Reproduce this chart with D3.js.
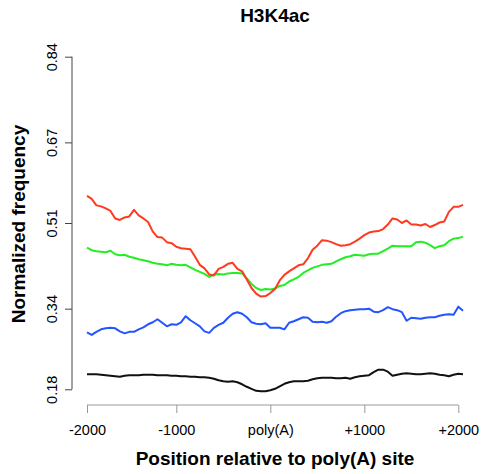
<!DOCTYPE html>
<html>
<head>
<meta charset="utf-8">
<script src="https://cdn.jsdelivr.net/npm/d3@7"></script>
<style>
  body { margin: 0; background: #fff; }
  svg { display: block; font-family: "Liberation Sans", Arial, sans-serif; }
</style>
</head>
<body>
<div id="chart"></div>
<script>
// positions relative to the poly(A) site, 50 bp bins
const positions = d3.range(-1950, 2051, 50);

const redValues = [
  0.564,0.558,0.545,0.543,0.539,0.534,0.519,0.516,0.521,0.523,
  0.536,0.525,0.519,0.512,0.493,0.482,0.481,0.472,0.470,0.463,
  0.460,0.459,0.458,0.443,0.427,0.420,0.408,0.406,0.419,0.423,
  0.429,0.431,0.419,0.414,0.398,0.381,0.370,0.364,0.365,0.371,
  0.379,0.396,0.407,0.414,0.420,0.426,0.428,0.440,0.457,0.465,
  0.476,0.475,0.472,0.468,0.465,0.466,0.468,0.473,0.479,0.486,
  0.491,0.493,0.494,0.498,0.507,0.519,0.517,0.510,0.515,0.507,
  0.507,0.505,0.508,0.502,0.506,0.511,0.513,0.532,0.542,0.542,0.546
];
const greenValues = [
  0.461,0.456,0.454,0.453,0.452,0.455,0.448,0.446,0.447,0.443,
  0.441,0.438,0.436,0.434,0.431,0.429,0.428,0.426,0.429,0.427,
  0.426,0.427,0.422,0.417,0.413,0.409,0.403,0.408,0.409,0.408,
  0.410,0.411,0.411,0.410,0.400,0.389,0.381,0.377,0.379,0.378,
  0.380,0.385,0.387,0.394,0.398,0.403,0.411,0.416,0.421,0.424,
  0.427,0.428,0.429,0.434,0.438,0.442,0.444,0.447,0.446,0.445,
  0.448,0.449,0.449,0.454,0.459,0.465,0.464,0.464,0.464,0.464,
  0.472,0.473,0.471,0.466,0.460,0.464,0.466,0.474,0.479,0.480,0.483
];
const blueValues = [
  0.293,0.288,0.294,0.299,0.301,0.302,0.301,0.295,0.291,0.294,
  0.294,0.299,0.303,0.309,0.313,0.319,0.312,0.305,0.309,0.308,
  0.313,0.325,0.317,0.311,0.305,0.295,0.292,0.302,0.308,0.312,
  0.322,0.330,0.333,0.330,0.323,0.313,0.310,0.309,0.311,0.302,
  0.302,0.302,0.299,0.312,0.315,0.319,0.323,0.322,0.314,0.313,
  0.314,0.312,0.315,0.324,0.331,0.335,0.337,0.338,0.339,0.339,
  0.340,0.334,0.333,0.337,0.343,0.339,0.337,0.333,0.316,0.322,
  0.321,0.320,0.322,0.323,0.323,0.326,0.328,0.329,0.328,0.344,0.336
];
const blackValues = [
  0.210,0.210,0.210,0.209,0.208,0.207,0.206,0.205,0.207,0.208,
  0.208,0.208,0.209,0.209,0.209,0.208,0.208,0.208,0.207,0.207,
  0.206,0.206,0.205,0.205,0.204,0.204,0.203,0.201,0.198,0.196,
  0.195,0.196,0.194,0.190,0.185,0.181,0.177,0.176,0.176,0.178,
  0.181,0.186,0.191,0.194,0.196,0.196,0.196,0.197,0.200,0.202,
  0.203,0.203,0.203,0.202,0.202,0.203,0.201,0.204,0.206,0.207,
  0.208,0.214,0.219,0.219,0.215,0.207,0.209,0.211,0.212,0.211,
  0.210,0.210,0.211,0.212,0.211,0.209,0.208,0.206,0.209,0.211,0.210
];

const xTickPositions = [-1950, -1000, 0, 1000, 2000];
const xTickLabels = ["-2000", "-1000", "poly(A)", "+1000", "+2000"];
const yTickValues = [0.18, 0.34, 0.51, 0.67, 0.84];
const yTickLabels = ["0.18", "0.34", "0.51", "0.67", "0.84"];

const series = [
  { name: "black", color: "#111111", values: blackValues },
  { name: "blue", color: "#2255ff", values: blueValues },
  { name: "green", color: "#22ee22", values: greenValues },
  { name: "red", color: "#ff3a1f", values: redValues }
];

const width = 484, height = 474;

const svg = d3.select("#chart").append("svg")
  .attr("width", width)
  .attr("height", height);

const x = d3.scaleLinear().domain([-1950, 2050]).range([87, 463]);
const y = d3.scaleLinear().domain([0.18, 0.84]).range([389.3, 56.7]);

// title
svg.append("text")
  .attr("x", 275).attr("y", 22)
  .attr("text-anchor", "middle")
  .style("font-weight", "bold").style("font-size", "19px")
  .text("H3K4ac");

// y axis
const yAxis = svg.append("g")
  .attr("transform", "translate(72,0)")
  .call(d3.axisLeft(y).tickValues(yTickValues).tickSize(7)
    .tickFormat((d, i) => yTickLabels[i]));
yAxis.select(".domain").attr("stroke", "#444").attr("d", `M0,${y(0.18)}V${y(0.84)}`);
yAxis.selectAll(".tick line").attr("stroke", "#444");
yAxis.selectAll(".tick text")
  .attr("x", null).attr("dy", null)
  .attr("transform", "translate(-15,0) rotate(-90)")
  .attr("text-anchor", "middle")
  .attr("fill", "#000")
  .style("font-size", "14.5px");

// x axis
const xAxis = svg.append("g")
  .attr("transform", "translate(0,405)")
  .call(d3.axisBottom(x).tickValues(xTickPositions).tickSize(8)
    .tickFormat((d, i) => xTickLabels[i]));
xAxis.select(".domain").attr("stroke", "#999")
  .attr("d", `M${x(-1950)},0H${x(2000)}`);
xAxis.selectAll(".tick line").attr("stroke", "#999");
xAxis.selectAll(".tick text")
  .attr("y", 30).attr("dy", null)
  .attr("fill", "#000")
  .style("font-size", "14.5px");

// axis titles
svg.append("text")
  .attr("x", 275).attr("y", 465)
  .attr("text-anchor", "middle")
  .style("font-weight", "bold").style("font-size", "19px")
  .text("Position relative to poly(A) site");

svg.append("text")
  .attr("transform", "translate(25,224) rotate(-90)")
  .attr("text-anchor", "middle")
  .style("font-weight", "bold").style("font-size", "19px")
  .text("Normalized frequency");

// lines
const line = d3.line()
  .x((d, i) => x(positions[i]))
  .y(d => y(d));

svg.append("g").selectAll("path")
  .data(series)
  .join("path")
  .attr("fill", "none")
  .attr("stroke", d => d.color)
  .attr("stroke-width", 2)
  .attr("stroke-linejoin", "round")
  .attr("d", d => line(d.values));
</script>
</body>
</html>
